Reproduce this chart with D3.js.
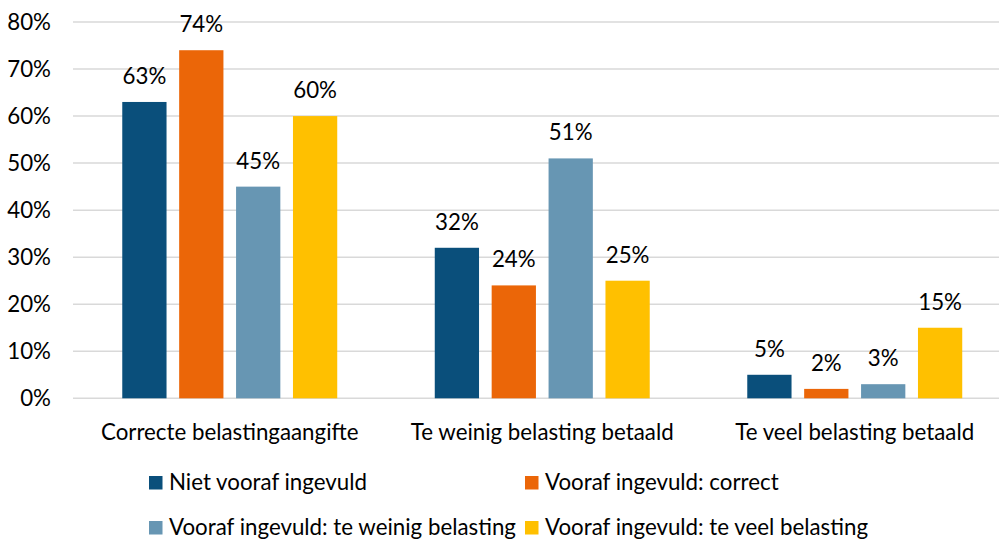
<!DOCTYPE html>
<html>
<head>
<meta charset="utf-8">
<script src="https://cdn.jsdelivr.net/npm/d3@7"></script>
<style>
  html, body { margin: 0; padding: 0; background: #fff; }
  svg { display: block; }
  text { font-family: Lato, "Open Sans", sans-serif; fill: #000; }
</style>
</head>
<body>
<svg id="chart" width="999" height="540"></svg>
<script>
// ---- data ----
const categories = ["Correcte belastingaangifte", "Te weinig belasting betaald", "Te veel belasting betaald"];
const seriesNames = ["Niet vooraf ingevuld", "Vooraf ingevuld: correct", "Vooraf ingevuld: te weinig belasting", "Vooraf ingevuld: te veel belasting"];
const nietVooraf     = [63, 32, 5];
const voorafCorrect  = [74, 24, 2];
const voorafWeinig   = [45, 51, 3];
const voorafVeel     = [60, 25, 15];
const yTicks = [0, 10, 20, 30, 40, 50, 60, 70, 80];
const colors = ["#0A4F7B", "#EB6608", "#6796B3", "#FFC000"];

const seriesValues = [nietVooraf, voorafCorrect, voorafWeinig, voorafVeel];

const svg = d3.select("#chart");

// fit font size so that category label width matches the reference
const probe = svg.append("text").attr("font-size", 100).text(categories[0]);
const w100 = probe.node().getComputedTextLength();
probe.remove();
const fs = Math.max(18, Math.min(26, 100 * 257.6 / w100));

const y = d3.scaleLinear().domain([0, 80]).range([398.3, 22]);
const x0 = d3.scaleBand().domain(categories).range([73.5, 1011]).paddingInner(0).paddingOuter(0);
const x1 = d3.scaleBand().domain(seriesNames).range([0, x0.bandwidth()]).paddingInner(0.222).paddingOuter(0.857);

// gridlines
svg.append("g").selectAll("line").data(yTicks).join("line")
  .attr("x1", 73).attr("x2", 1011)
  .attr("y1", d => y(d)).attr("y2", d => y(d))
  .attr("stroke", "#D9D9D9").attr("stroke-width", 1.5);

// y tick labels
svg.append("g").selectAll("text").data(yTicks).join("text")
  .attr("x", 51).attr("y", d => y(d))
  .attr("dy", "0.34em")
  .attr("text-anchor", "end")
  .attr("font-size", fs)
  .text(d => d + "%");

// bars
const groups = svg.append("g").selectAll("g").data(categories).join("g")
  .attr("transform", c => `translate(${x0(c)},0)`);

groups.each(function(c, ci) {
  const g = d3.select(this);
  const data = seriesNames.map((s, si) => ({ s, si, v: seriesValues[si][ci] }));
  g.selectAll("rect").data(data).join("rect")
    .attr("x", d => x1(d.s))
    .attr("width", x1.bandwidth())
    .attr("y", d => y(d.v))
    .attr("height", d => y(0) - y(d.v))
    .attr("fill", d => colors[d.si]);
  g.selectAll("text").data(data).join("text")
    .attr("x", d => x1(d.s) + x1.bandwidth() / 2)
    .attr("y", d => y(d.v) - 18)
    .attr("text-anchor", "middle")
    .attr("font-size", fs)
    .text(d => d.v + "%");
});

// category labels
svg.append("g").selectAll("text").data(categories).join("text")
  .attr("x", c => x0(c) + x0.bandwidth() / 2)
  .attr("y", 440)
  .attr("text-anchor", "middle")
  .attr("font-size", fs)
  .text(c => c);

// legend
const legendPos = [
  { x: 149, y: 476 },
  { x: 525, y: 476 },
  { x: 149, y: 521 },
  { x: 525, y: 521 }
];
const leg = svg.append("g").selectAll("g").data(seriesNames).join("g")
  .attr("transform", (d, i) => `translate(${legendPos[i].x},${legendPos[i].y})`);
leg.append("rect").attr("width", 13.5).attr("height", 13.5).attr("fill", (d, i) => colors[i]);
leg.append("text").attr("x", 20).attr("y", 13.5).attr("font-size", fs).text(d => d);
</script>
</body>
</html>
